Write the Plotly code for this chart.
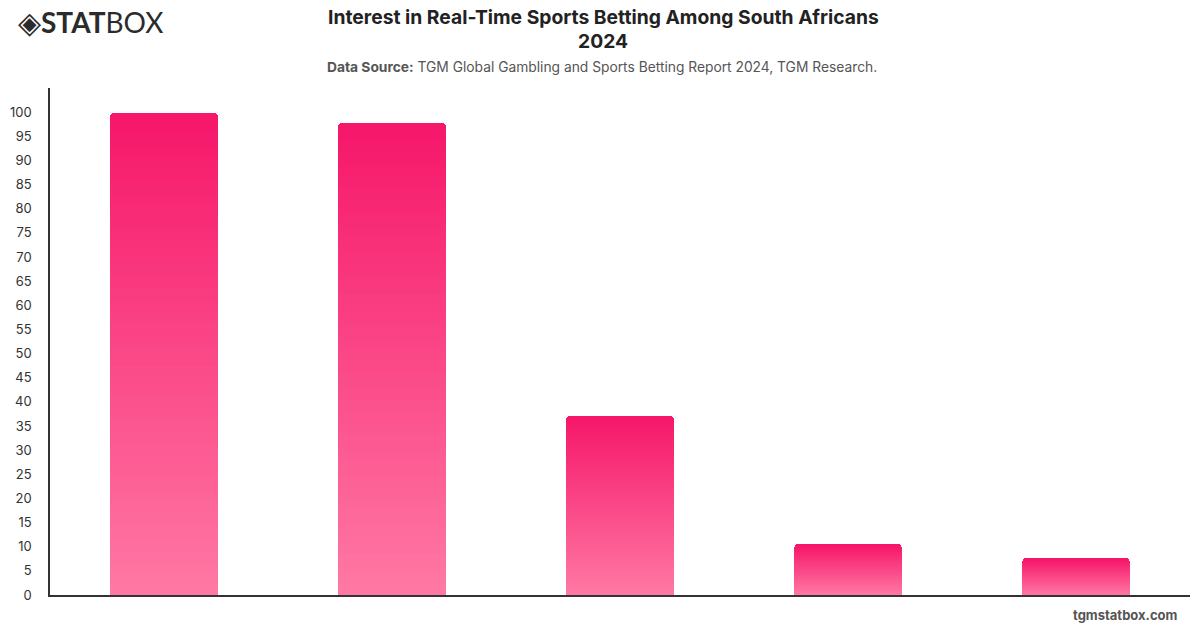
import plotly.graph_objects as go

categories = ["Category A", "Category B", "Category C", "Category D", "Category E"]
values = [99.8, 97.7, 37.1, 10.4, 7.5]
y_ticks = list(range(0, 101, 5))

TOP = (246, 23, 106)
BOTTOM = (255, 120, 164)
N = 80

fig = go.Figure()
for k in range(N):
    t = k / (N - 1)  # 0 bottom -> 1 top
    c = tuple(round(BOTTOM[i] + (TOP[i] - BOTTOM[i]) * t) for i in range(3))
    fig.add_trace(go.Bar(
        x=categories,
        y=[v / N for v in values],
        marker=dict(color=f"rgb{c}", line=dict(width=0)),
        width=0.477,
        hoverinfo="skip",
        showlegend=False,
    ))

L, R, T, B = 46, 10, 88, 33
fig.update_layout(
    width=1200, height=628,
    barmode="stack",
    barcornerradius=4,
    bargap=0,
    paper_bgcolor="white",
    plot_bgcolor="white",
    margin=dict(l=L, r=R, t=T, b=B),
    font=dict(family="Inter, Roboto, sans-serif", color="#333"),
    xaxis=dict(
        showticklabels=False, showgrid=False, zeroline=False,
        showline=True, linecolor="#333", linewidth=1.5, ticks="",
    ),
    yaxis=dict(
        range=[0, 105], tickvals=y_ticks, showgrid=False, zeroline=False,
        showline=True, linecolor="#333", linewidth=1.5, ticks="",
        ticklabelstandoff=14, tickfont=dict(size=13, color="#333"),
    ),
)

H = 628 - T - B
W = 1200 - L - R
def px(x):
    return (x - L) / W
def py(y):
    return (628 - B - y) / H

fig.add_annotation(text="<b>Interest in Real-Time Sports Betting Among South Africans</b>",
                   x=px(601), y=py(17), xref="paper", yref="paper",
                   xanchor="center", yanchor="middle", showarrow=False,
                   font=dict(size=19.3, color="#222"))
fig.add_annotation(text="<b>2024</b>",
                   x=px(601), y=py(41), xref="paper", yref="paper",
                   xanchor="center", yanchor="middle", showarrow=False,
                   font=dict(size=19.3, color="#222"))
fig.add_annotation(text="<b>Data Source:</b> TGM Global Gambling and Sports Betting Report 2024, TGM Research.",
                   x=px(600), y=py(67), xref="paper", yref="paper",
                   xanchor="center", yanchor="middle", showarrow=False,
                   font=dict(size=13.8, color="#555"))
fig.add_annotation(text="<b>tgmstatbox.com</b>",
                   x=px(1180), y=py(615), xref="paper", yref="paper",
                   xanchor="right", yanchor="middle", showarrow=False,
                   font=dict(size=13, color="#555"))
fig.add_annotation(text="<span style='font-size:30px'>◈</span><b>STAT</b>BOX",
                   x=px(12), y=py(21), xref="paper", yref="paper",
                   xanchor="left", yanchor="middle", showarrow=False,
                   font=dict(size=28, color="#2b2b2b", family="Lato, Inter, sans-serif"))

fig.write_html("out.html")
